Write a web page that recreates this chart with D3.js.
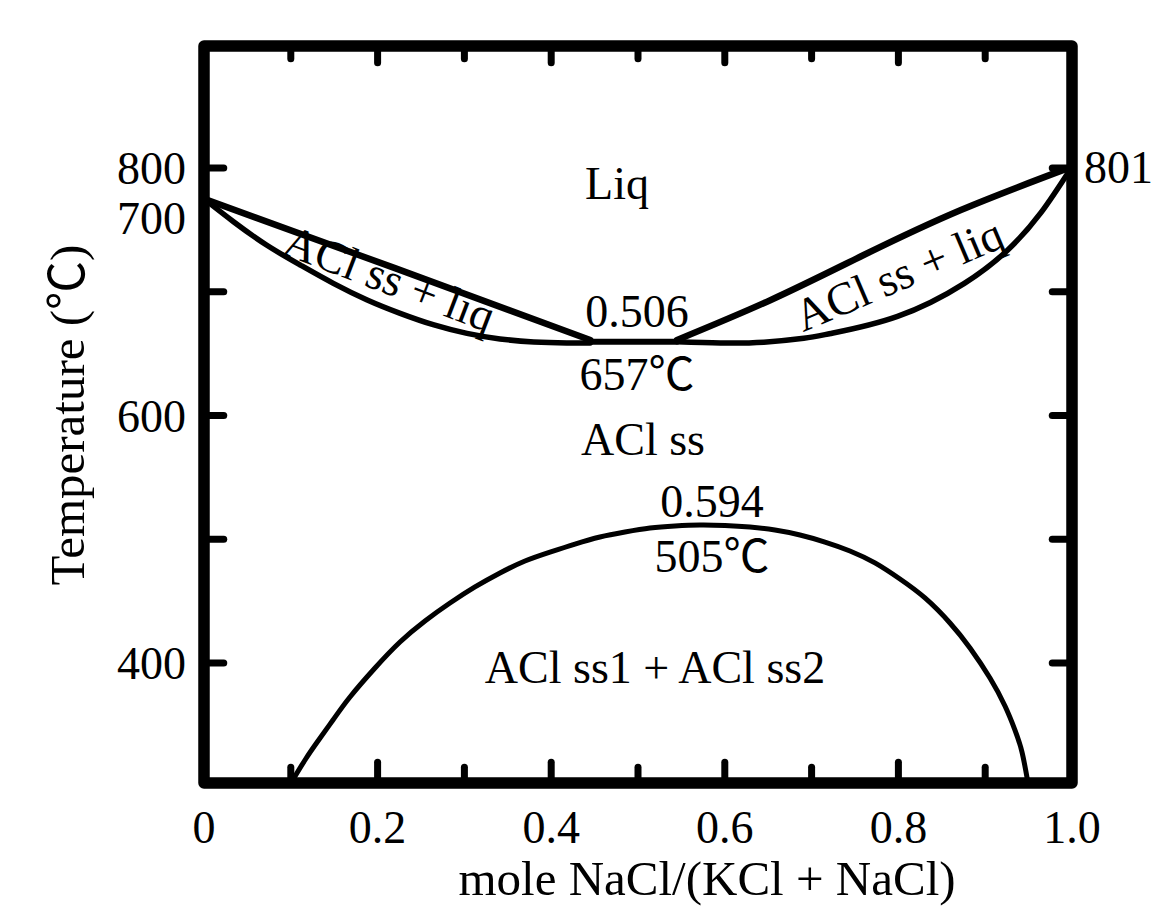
<!DOCTYPE html>
<html>
<head>
<meta charset="utf-8">
<script src="https://cdn.jsdelivr.net/npm/d3@7"></script>
<style>
  html, body { margin: 0; padding: 0; background: #fff; }
  svg text { font-family: "Liberation Serif", "Noto Sans CJK SC", serif; fill: #000; }
</style>
</head>
<body>
<div id="chart"></div>
<script>
// ---- data (x = mole fraction NaCl, t = temperature in C) ----
const liquidusLeftX = [0, 0.22, 0.445];
const liquidusLeftT = [775, 719, 661];

const solidusLeftX = [0, 0.034, 0.072, 0.111, 0.149, 0.188, 0.226, 0.265, 0.303, 0.341, 0.380, 0.418, 0.445];
const solidusLeftT = [775, 756.5, 737.7, 721.5, 706.7, 693.3, 682.5, 673.1, 666.3, 661.8, 659.4, 658.6, 658.5];

const minimumX = [0.445, 0.545];
const minimumT = [659.5, 659.5];

const liquidusRightX = [0.545, 0.653, 0.760, 0.872, 1.0];
const liquidusRightT = [661, 693.3, 729.6, 766, 801];

const solidusRightX = [0.545, 0.595, 0.645, 0.691, 0.722, 0.799, 0.876, 0.926, 0.964, 1.0];
const solidusRightT = [659.6, 658.6, 659.2, 662.3, 666.2, 680.0, 706.7, 733.7, 763.6, 801];

// miscibility gap (ACl ss1 + ACl ss2)
const gapX = [0.1002, 0.1164, 0.1313, 0.1486, 0.1682, 0.1970, 0.2258, 0.2546, 0.2834, 0.3122,
              0.3410, 0.3698, 0.3986, 0.4274, 0.4562, 0.4850, 0.5138, 0.5426, 0.5714, 0.6002,
              0.6290, 0.6578, 0.6866, 0.7154, 0.7442, 0.7730, 0.8018, 0.8306, 0.8594, 0.8825,
              0.9055, 0.9228, 0.9343, 0.9424, 0.9493];
const gapT = [303, 321.6, 336.9, 353.9, 372.5, 395.9, 416.9, 433.9, 448.4, 461.4,
              472.7, 482.4, 489.6, 496.1, 501.8, 505.8, 509.0, 510.7, 511.5, 511.1,
              509.8, 507.4, 503.4, 497.7, 490.5, 480.8, 467.8, 452.5, 432.3, 412.1,
              387.8, 365.2, 345.8, 328.0, 303];

const xTickValues = [0, 0.2, 0.4, 0.6, 0.8, 1.0];
const xTickLabels = ["0", "0.2", "0.4", "0.6", "0.8", "1.0"];
const xMinorTicks = [0.1, 0.3, 0.5, 0.7, 0.9];
const yTickValues = [800, 700, 600, 500, 400];
const yLabelTemps = [800, 760, 600, 400];
const yLabelTexts = ["800", "700", "600", "400"];

// ---- layout ----
const width = 1153, height = 917;
const frame = { left: 204, right: 1072, top: 46, bottom: 783 };
const border = 11.5;

const x = d3.scaleLinear().domain([0, 1]).range([frame.left, frame.right]);
const y = d3.scaleLinear().domain([303, 898.5]).range([frame.bottom, frame.top]);

const svg = d3.select("#chart").append("svg")
    .attr("width", width)
    .attr("height", height);

svg.append("rect").attr("width", width).attr("height", height).attr("fill", "#fff");

const zip = (xs, ts) => xs.map((v, i) => ({ x: v, t: ts[i] }));

const curve = d3.line()
    .x(d => x(d.x))
    .y(d => y(d.t))
    .curve(d3.curveNatural);

// clip so curves don't poke out of the frame
svg.append("clipPath").attr("id", "plot-clip")
    .append("rect")
    .attr("x", frame.left).attr("y", frame.top)
    .attr("width", frame.right - frame.left)
    .attr("height", frame.bottom - frame.top);

const plot = svg.append("g").attr("clip-path", "url(#plot-clip)");

// draw phase boundaries
const lines = [
    { data: zip(liquidusLeftX, liquidusLeftT), w: 6.5 },
    { data: zip(solidusLeftX, solidusLeftT), w: 5.5 },
    { data: zip(minimumX, minimumT), w: 6 },
    { data: zip(liquidusRightX, liquidusRightT), w: 6.5 },
    { data: zip(solidusRightX, solidusRightT), w: 5.5 },
    { data: zip(gapX, gapT), w: 5 }
];

lines.forEach(l => {
    plot.append("path")
        .datum(l.data)
        .attr("fill", "none")
        .attr("stroke", "#000")
        .attr("stroke-width", l.w)
        .attr("stroke-linejoin", "round")
        .attr("stroke-linecap", "round")
        .attr("d", curve);
});

// ticks
const inner = {
    left: frame.left + border / 2, right: frame.right - border / 2,
    top: frame.top + border / 2, bottom: frame.bottom - border / 2
};
const ticks = svg.append("g")
    .attr("stroke", "#000")
    .attr("stroke-width", 7)
    .attr("stroke-linecap", "round");

yTickValues.forEach(v => {
    ticks.append("line").attr("x1", frame.left).attr("x2", inner.left + 14)
        .attr("y1", y(v)).attr("y2", y(v));
    ticks.append("line").attr("x1", frame.right).attr("x2", inner.right - 14)
        .attr("y1", y(v)).attr("y2", y(v));
});

const xMajor = xTickValues.filter(v => v > 0 && v < 1);
xMajor.forEach(v => {
    ticks.append("line").attr("x1", x(v)).attr("x2", x(v))
        .attr("y1", frame.bottom).attr("y2", inner.bottom - 15);
    ticks.append("line").attr("x1", x(v)).attr("x2", x(v))
        .attr("y1", frame.top).attr("y2", inner.top + 11);
});
xMinorTicks.forEach(v => {
    ticks.append("line").attr("x1", x(v)).attr("x2", x(v))
        .attr("y1", frame.bottom).attr("y2", inner.bottom - 10);
    ticks.append("line").attr("x1", x(v)).attr("x2", x(v))
        .attr("y1", frame.top).attr("y2", inner.top + 7);
});

// frame
svg.append("rect")
    .attr("x", frame.left).attr("y", frame.top)
    .attr("width", frame.right - frame.left)
    .attr("height", frame.bottom - frame.top)
    .attr("fill", "none")
    .attr("stroke", "#000")
    .attr("stroke-width", border)
    .attr("stroke-linejoin", "round");

// tick labels
const fs = 46;
yLabelTemps.forEach((t, i) => {
    svg.append("text")
        .attr("x", 186).attr("y", y(t))
        .attr("dy", "0.35em")
        .attr("text-anchor", "end")
        .style("font-size", fs + "px")
        .text(yLabelTexts[i]);
});

xTickValues.forEach((v, i) => {
    svg.append("text")
        .attr("x", x(v)).attr("y", 843)
        .attr("text-anchor", "middle")
        .style("font-size", fs + "px")
        .text(xTickLabels[i]);
});

svg.append("text")
    .attr("x", 1084).attr("y", y(801))
    .attr("dy", "0.35em")
    .style("font-size", fs + "px")
    .text("801");

// axis titles
svg.append("text")
    .attr("x", 707).attr("y", 895)
    .attr("text-anchor", "middle")
    .style("font-size", "49px")
    .text("mole NaCl/(KCl + NaCl)");

svg.append("text")
    .attr("transform", "translate(84,415) rotate(-90)")
    .attr("text-anchor", "middle")
    .style("font-size", "49px")
    .text("Temperature (℃)");

// region labels
const labels = [
    { text: "Liq", x: 617, y: 199 },
    { text: "0.506", x: 637, y: 327 },
    { text: "657℃", x: 637, y: 390 },
    { text: "ACl ss", x: 643, y: 455 },
    { text: "0.594", x: 712, y: 517 },
    { text: "505℃", x: 712, y: 572 },
    { text: "ACl ss1 + ACl ss2", x: 655, y: 683 }
];
labels.forEach(l => {
    svg.append("text")
        .attr("x", l.x).attr("y", l.y)
        .attr("text-anchor", "middle")
        .style("font-size", fs + "px")
        .text(l.text);
});

svg.append("text")
    .attr("transform", "translate(384,293) rotate(21)")
    .attr("text-anchor", "middle")
    .style("font-size", fs + "px")
    .text("ACl ss + liq");

svg.append("text")
    .attr("transform", "translate(905,289) rotate(-23)")
    .attr("text-anchor", "middle")
    .style("font-size", fs + "px")
    .text("ACl ss + liq");
</script>
</body>
</html>
